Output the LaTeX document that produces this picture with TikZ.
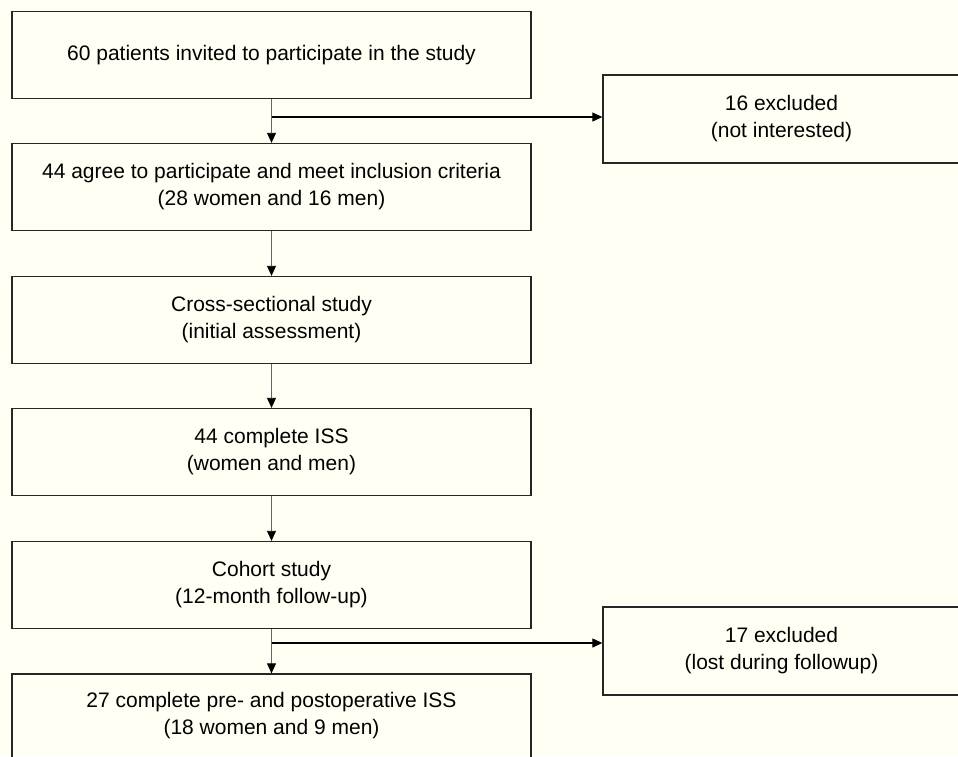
\documentclass[tikz,border=0pt]{standalone}
\usepackage{fontspec}
\setmainfont{Liberation Sans}
\usetikzlibrary{arrows.meta}
\definecolor{paper}{HTML}{FFFFF4}
\begin{document}
\begin{tikzpicture}[x=1pt,y=-1pt]
  \tikzset{
    flowbox/.style={draw=black!85,line width=1.3pt,minimum width=519pt,minimum height=87pt,
      align=center,inner sep=0pt,font=\fontsize{21}{27}\selectfont},
    exclbox/.style={flowbox,minimum width=357pt,minimum height=88pt},
    flowarrow/.style={-{Triangle[length=10pt,width=9pt,color=black]},line width=0.8pt,draw=black!60},
    branch/.style={-{Triangle[length=10pt,width=9pt]},line width=1.2pt},
  }
  \fill[paper] (0,0) rectangle (958,756);
  \useasboundingbox (0,0) rectangle (958,756);
  \clip (0,0) rectangle (958,756);
  \node[flowbox] (invited) at (271.5,55) {60 patients invited to participate in the study};
  \node[flowbox] (agree) at (271.5,187) {44 agree to participate and meet inclusion criteria\\(28 women and 16 men)};
  \node[flowbox] (cross) at (271.5,320) {Cross-sectional study\\(initial assessment)};
  \node[flowbox] (iss) at (271.5,452) {44 complete ISS\\(women and men)};
  \node[flowbox] (cohort) at (271.5,585) {Cohort study\\(12-month follow-up)};
  \node[flowbox,minimum height=84pt] (final) at (271.5,716) {27 complete pre- and postoperative ISS\\(18 women and 9 men)};
  \node[exclbox] (excl1) at (781.5,119) {16 excluded\\(not interested)};
  \node[exclbox] (excl2) at (781.5,651) {17 excluded\\(lost during followup)};
  \coordinate (split1) at (272,117);
  \coordinate (split2) at (272,643);
  \draw[flowarrow] (invited) -- (agree);
  \draw[flowarrow] (agree) -- (cross);
  \draw[flowarrow] (cross) -- (iss);
  \draw[flowarrow] (iss) -- (cohort);
  \draw[flowarrow] (cohort) -- (final);
  \draw[branch] (split1) -- (split1 -| excl1.west);
  \draw[branch] (split2) -- (split2 -| excl2.west);
\end{tikzpicture}
\end{document}
